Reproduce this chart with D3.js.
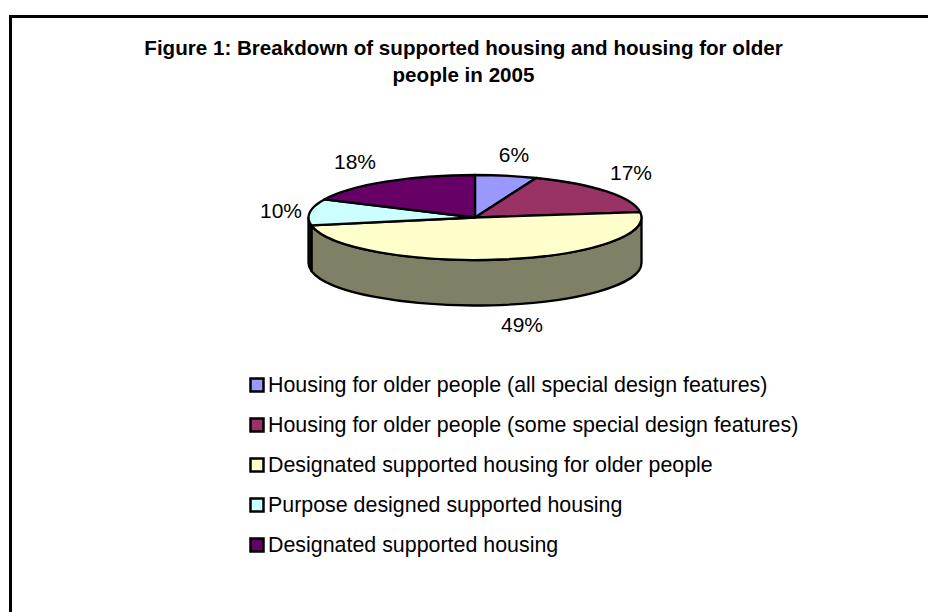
<!DOCTYPE html>
<html>
<head>
<meta charset="utf-8">
<script src="https://cdn.jsdelivr.net/npm/d3@7"></script>
<style>
  html, body { margin: 0; padding: 0; background: #fff; overflow: hidden; }
  svg { display: block; }
  text { font-family: "Liberation Sans", Arial, sans-serif; fill: #000; }
</style>
</head>
<body>
<svg id="chart" width="928" height="612"></svg>
<script>
const titleLines = ["Figure 1: Breakdown of supported housing and housing for older", "people in 2005"];
const categories = [
  "Housing for older people (all special design features)",
  "Housing for older people (some special design features)",
  "Designated supported housing for older people",
  "Purpose designed supported housing",
  "Designated supported housing"
];
const shares = [6, 17, 49, 10, 18];
const topColors = ["#9999ff", "#993366", "#ffffcc", "#ccffff", "#660066"];
const wallColors = ["#4d4d80", "#4d1a33", "#808066", "#1a2020", "#330033"];

const svg = d3.select("#chart");

// Frame of the chart area: only its top and left edges fall inside the page
svg.append("path")
  .attr("d", "M928,16.5H10.5V612")
  .attr("fill", "none").attr("stroke", "#000").attr("stroke-width", 3);

svg.append("g").selectAll("text").data(titleLines).join("text")
  .attr("x", 463.5).attr("y", (d, i) => 55 + i * 27)
  .attr("text-anchor", "middle")
  .attr("font-size", 20.6).attr("font-weight", "bold")
  .text(d => d);

// Tilted pie: parametric angle on an ellipse
const cx = 475, cy = 217.5, rx = 166.5, ry = 42.5, depth = 45.5;
const px = a => cx + rx * Math.sin(a);
const py = a => cy - ry * Math.cos(a);
const arcs = d3.pie().value(d => d).sort(null)(shares);

function ellipseArc(a0, a1, dy, reverse) {
  const to = reverse ? a0 : a1;
  const large = Math.abs(a1 - a0) > Math.PI ? 1 : 0;
  const sweep = reverse ? 0 : 1;
  return `A${rx},${ry} 0 ${large} ${sweep} ${px(to)},${py(to) + dy}`;
}

function wallPath(d) {
  const a0 = Math.max(d.startAngle, Math.PI / 2);
  const a1 = Math.min(d.endAngle, 3 * Math.PI / 2);
  if (a1 <= a0) return null;
  return `M${px(a0)},${py(a0)}` + ellipseArc(a0, a1, 0, false) +
         `L${px(a1)},${py(a1) + depth}` + ellipseArc(a0, a1, depth, true) + "Z";
}

const pie = svg.append("g").attr("stroke", "#000").attr("stroke-width", 2.3).attr("stroke-linejoin", "round");

pie.selectAll("path.wall").data(arcs.filter(wallPath)).join("path")
  .attr("class", "wall")
  .attr("d", wallPath)
  .attr("fill", d => wallColors[d.index]);

pie.selectAll("path.top").data(arcs).join("path")
  .attr("class", "top")
  .attr("d", d => `M${cx},${cy}L${px(d.startAngle)},${py(d.startAngle)}` +
                  ellipseArc(d.startAngle, d.endAngle, 0, false) + "Z")
  .attr("fill", d => topColors[d.index]);

// Percentage labels, placed by hand around the rim
const labelX = [514, 631, 522, 281, 355];
const labelY = [162, 180, 332, 218, 169];
svg.append("g").selectAll("text").data(arcs).join("text")
  .attr("x", d => labelX[d.index])
  .attr("y", d => labelY[d.index])
  .attr("text-anchor", "middle")
  .attr("font-size", 21)
  .text(d => d.data + "%");

// Legend
const legendY = d3.scalePoint().domain(categories).range([385, 545]);
const legend = svg.append("g").selectAll("g").data(categories).join("g")
  .attr("transform", d => `translate(250,${legendY(d)})`);
legend.append("rect")
  .attr("x", 0.5).attr("y", -6.5).attr("width", 13).attr("height", 13)
  .attr("stroke", "#000").attr("stroke-width", 2.5)
  .attr("fill", (d, i) => topColors[i]);
legend.append("text")
  .attr("x", 18).attr("y", 7)
  .attr("font-size", 21.4)
  .text(d => d);
</script>
</body>
</html>
